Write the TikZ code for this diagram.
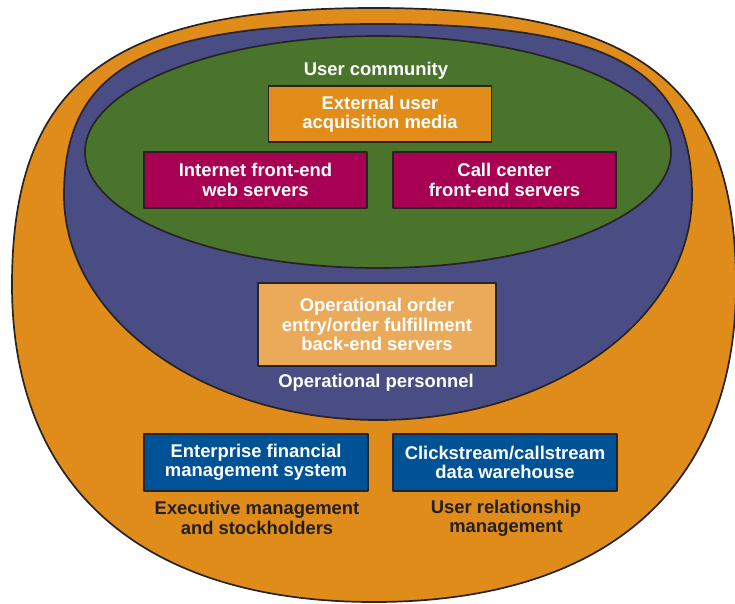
\documentclass[tikz,border=0pt]{standalone}
\usepackage{fontspec}
\setmainfont{Liberation Sans}
\definecolor{ringorange}{RGB}{224,140,26}
\definecolor{staffblue}{RGB}{74,76,132}
\definecolor{usergreen}{RGB}{74,116,44}
\definecolor{frontred}{RGB}{168,0,82}
\definecolor{mediaorange}{RGB}{226,140,26}
\definecolor{backorange}{RGB}{234,170,90}
\definecolor{boxblue}{RGB}{0,82,150}
\definecolor{edgegray}{RGB}{40,36,38}
\definecolor{darktext}{RGB}{35,31,32}
\begin{document}
\begin{tikzpicture}[x=1pt,y=-1pt,line join=round,
  box/.style={draw=edgegray,line width=1.3pt,minimum width=223,minimum height=56,align=center,text=white,font=\bfseries\fontsize{18.4}{19.2}\selectfont},
  lbl/.style={align=center,font=\bfseries\fontsize{18.4}{19.2}\selectfont}]
\useasboundingbox (0,0) rectangle (735,603);
% rings
\draw [fill=ringorange,draw=edgegray,line width=1.7pt] (12,285) .. controls (12,82.8) and (109.7,8) .. (374,8)
  .. controls (638.3,8) and (736,82.8) .. (736,285)
  .. controls (736,487.9) and (605.7,602) .. (374,602)
  .. controls (142.3,602) and (12,487.9) .. (12,285) -- cycle;
\draw [fill=staffblue,draw=edgegray,line width=1.7pt] (64,195) .. controls (64,68.5) and (145.6,24) .. (378,24)
  .. controls (610.4,24) and (692,68.5) .. (692,195)
  .. controls (692,319.2) and (551.3,420) .. (378,420)
  .. controls (204.7,420) and (64,319.2) .. (64,195) -- cycle;
\draw [fill=usergreen,draw=edgegray,line width=1.7pt] (378,152) ellipse [x radius=293,y radius=116];
% boxes
\node [box,fill=mediaorange] (media) at (380,114) {External user\\acquisition media};
\node [box,fill=frontred] (web) at (255.5,180) {Internet front-end\\web servers};
\node [box,fill=frontred] (call) at (504.5,180) {Call center\\front-end servers};
\node [box,fill=backorange,minimum width=238,minimum height=83] (backend) at (377,324.5) {Operational order\\entry/order fulfillment\\back-end servers};
\node [box,fill=boxblue,minimum width=224,minimum height=57] (finance) at (256,462.5) {Enterprise financial\\management system};
\node [box,fill=boxblue,minimum width=224,minimum height=57] (warehouse) at (505,462.5) {Clickstream/callstream\\data warehouse};
% labels
\node [lbl,text=white,anchor=base] (community) at (376,75) {User community};
\node [lbl,text=white,anchor=base] (personnel) at (376,387) {Operational personnel};
\node [lbl,text=darktext] (exec) at (257,518) {Executive management\\and stockholders};
\node [lbl,text=darktext] (userrel) at (506,518) {User relationship\\management};
\end{tikzpicture}
\end{document}
